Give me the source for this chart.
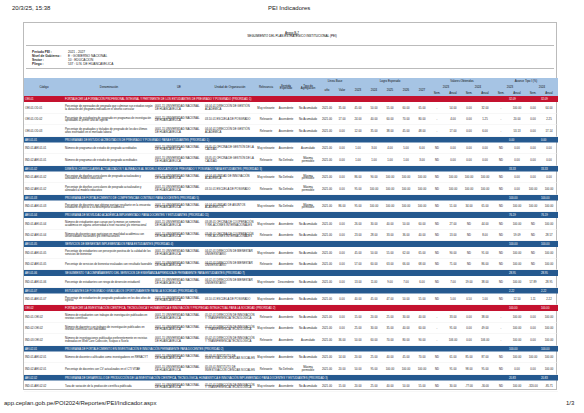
<!DOCTYPE html>
<html>
<head>
<meta charset="utf-8">
<script src="https://cdn.jsdelivr.net/npm/chart.js@4.4.1/dist/chart.umd.min.js"></script>
<style>
  body { margin:0; width:584px; height:413px; background:#fff; font-family:"Liberation Sans", Arial, sans-serif; position:relative; overflow:hidden; }
  .top { position:absolute; font-size:6px; color:#222; }
  #frame { position:absolute; left:23px; top:22px; width:534px; height:368px; border:1px solid #bbb; box-sizing:border-box; }
  .hline { position:absolute; left:26px; width:528px; height:1px; background:#bbb; }
  #sheet { position:absolute; left:0; top:0; width:2336px; height:1652px; transform:scale(0.25); transform-origin:0 0; }
  .meta { position:absolute; left:128px; top:200px; font-size:12.8px; line-height:16px; color:#222; }
  .meta b { display:inline-block; width:144px; }
  .title { position:absolute; left:0; width:2336px; top:124px; text-align:center; font-size:12px; line-height:14.4px; }
  table { position:absolute; left:96px; top:312px; width:2128px; border-collapse:collapse; table-layout:fixed; font-size:11px; line-height:10.8px; }
  td, th { padding:0 4px; overflow:hidden; white-space:normal; }
  thead th { background:#a6c4e4; font-weight:normal; text-align:center; height:24px; color:#111; font-size:11.5px; }
  tr.d td { height:44px; border-bottom:2px solid #eee; color:#222; }
  tr.d td.n { text-align:center; }
  tr.g td { height:24px; background:#25598f; color:#fff; }
  tr.r td { height:24px; background:#c4122f; color:#fff; }
</style>
</head>
<body>
<div class="top" style="left:12px;top:5px">20/3/25, 15:38</div>
<div class="top" style="left:268px;top:5px">PEI Indicadores</div>
<div id="frame"></div>
<div class="hline" style="top:45px"></div>
<div class="hline" style="top:68px"></div>
<div id="sheet">
<div class="title"><u>Anexo B-7</u><br>SEGUIMIENTO DEL PLAN ESTRATÉGICO INSTITUCIONAL (PEI)</div>
<div class="meta"><b>Período PEI :</b>2021 - 2027<br><b>Nivel de Gobierno :</b>E : GOBIERNO NACIONAL<br><b>Sector :</b>10 : EDUCACION<br><b>Pliego :</b>537 : U.N. DE HUANCAVELICA</div>
<table id="tbl">
<colgroup>
<col style="width:160px"><col style="width:360px"><col style="width:200px"><col style="width:208px"><col style="width:80px"><col style="width:80px"><col style="width:96px">
<col style="width:56px"><col style="width:64px"><col style="width:64px"><col style="width:64px"><col style="width:64px"><col style="width:64px"><col style="width:64px">
<col style="width:56px"><col style="width:72px"><col style="width:56px"><col style="width:72px"><col style="width:56px"><col style="width:72px"><col style="width:56px"><col style="width:72px">
</colgroup>
<thead>
<tr><th rowspan="3">Código</th><th rowspan="3">Denominación</th><th rowspan="3">UE</th><th rowspan="3">Unidad de Organización</th><th rowspan="3">Relevancia</th><th rowspan="3">Sentido Esperado</th><th rowspan="3">Tipo de Agregación</th>
<th colspan="2">Línea Base</th><th colspan="5">Logro Esperado</th><th colspan="4">Valores Obtenidos</th><th colspan="4">Avance Tipo I (%)</th></tr>
<tr><th rowspan="2">año</th><th rowspan="2">Valor</th><th rowspan="2">2023</th><th rowspan="2">2024</th><th rowspan="2">2025</th><th rowspan="2">2026</th><th rowspan="2">2027</th>
<th colspan="2">2023</th><th colspan="2">2024</th><th colspan="2">2023</th><th colspan="2">2024</th></tr>
<tr><th>Sem.</th><th>Anual</th><th>Sem.</th><th>Anual</th><th>Sem.</th><th>Anual</th><th>Sem.</th><th>Anual</th></tr>
</thead>
<tbody id="body"></tbody>
</table>
</div>
<div class="top" style="left:4px;top:400px">app.ceplan.gob.pe/POI2024/Reportes/PEI/Indicador.aspx</div>
<div class="top" style="left:566px;top:400px">1/3</div>
<script>
// kind: r = objetivo (red), g = acción (blue), d = indicador
const kinds = ["r","d","d","d","g","d","d","g","d","d","g","d","g","d","d","g","d","d","g","d","g","d","r","d","d","d","g","d","d","g","d"];
const codes = ["OEI.01","OEI.01.OD.01","OEI.01.OD.02","OEI.01.OD.03","AEI.01.01","IND.01.AEI.01.01","IND.02.AEI.01.01","AEI.01.02","IND.01.AEI.01.02","IND.02.AEI.01.02","AEI.01.03","IND.01.AEI.01.03","AEI.01.04","IND.01.AEI.01.04","IND.02.AEI.01.04","AEI.01.05","IND.01.AEI.01.05","IND.02.AEI.01.05","AEI.01.06","IND.01.AEI.01.06","AEI.01.07","IND.01.AEI.01.07","OEI.02","IND.01.OEI.02","IND.02.OEI.02","IND.03.OEI.02","AEI.02.01","IND.01.AEI.02.01","IND.02.AEI.02.01","AEI.02.02","IND.01.AEI.02.02"];
const names = [
 "FORTALECER LA FORMACIÓN PROFESIONAL INTEGRAL Y PERTINENTE DE LOS ESTUDIANTES DE PREGRADO Y POSGRADO (PRIORIDAD 1)",
 "Porcentaje de egresados de pregrado que culminan sus estudios según la duración del programa indicada en el diseño curricular",
 "Porcentaje de estudiantes de posgrado en programas de investigación aprobados al primer año de egreso",
 "Porcentaje de graduados y titulados de pregrado de los dos últimos años insertados en el mercado laboral",
 "PROGRAMAS DE ESTUDIO ACREDITADOS DE PREGRADO Y POSGRADO PARA ESTUDIANTES (PRIORIDAD 1)",
 "Número de programas de estudio de pregrado acreditados",
 "Número de programas de estudio de posgrado acreditados",
 "DISEÑOS CURRICULARES ACTUALIZADOS Y ALINEADOS AL MODELO EDUCATIVO DE PREGRADO Y POSGRADO PARA ESTUDIANTES (PRIORIDAD 3)",
 "Porcentaje de diseños curriculares de pregrado actualizados y alineados al modelo educativo",
 "Porcentaje de diseños curriculares de posgrado actualizados y alineados al modelo educativo",
 "PROGRAMA DE FORTALECIMIENTO DE COMPETENCIAS CONTINUO PARA DOCENTES (PRIORIDAD 5)",
 "Porcentaje de docentes que obtiene puntaje resaltante en la encuesta: estudiante respecto a su desempeño académico",
 "PROGRAMA DE MOVILIDAD ACADÉMICA IMPLEMENTADO PARA DOCENTES Y ESTUDIANTES (PRIORIDAD 11)",
 "Número de estudiantes que cursan por lo menos un semestre académico en alguna universidad a nivel nacional y/o internacional",
 "Número de docentes que participan en movilidad académica con universidades nacionales y/o internacionales",
 "SERVICIOS DE BIENESTAR IMPLEMENTADOS PARA ESTUDIANTES (PRIORIDAD 4)",
 "Porcentaje de estudiantes con percepción positiva de la calidad de los servicios de bienestar",
 "Porcentaje de servicios de bienestar evaluados con resultado favorable",
 "SEGUIMIENTO Y ACOMPAÑAMIENTO DEL SERVICIOS DE ENSEÑANZA APRENDIZAJE PERMANENTE PARA ESTUDIANTES (PRIORIDAD 7)",
 "Porcentaje de estudiantes con riesgo de deserción estudiantil",
 "ESTUDIANTES DE POSGRADO GRADUADOS OPORTUNAMENTE PARA LA SOCIEDAD (PRIORIDAD 6)",
 "Porcentaje de estudiantes de posgrado graduados en los dos años de egreso",
 "FORTALECER LA INVESTIGACIÓN CIENTÍFICA, TECNOLÓGICA Y HUMANÍSTICA E INNOVACIÓN Y PROPIEDAD INTELECTUAL PARA LA SOCIEDAD (PRIORIDAD 2)",
 "Número de estudiantes con trabajos de investigación publicados en revistas científicas",
 "Número de docentes con trabajos de investigación publicados en revistas científicas con indexadas",
 "Número de investigaciones publicadas preferentemente en revistas indexadas en Web Core Colección, Scopus o Scielo",
 "PROGRAMA DE FORTALECIMIENTO EN INVESTIGACIÓN E INNOVACIÓN PERMANENTE PARA DOCENTES (PRIORIDAD 2)",
 "Número de docentes calificados como investigadores en RENACYT",
 "Porcentaje de docentes con CV actualizados en el CTI VITAE",
 "PROGRAMA DE DESARROLLO DE PRODUCCIÓN DE LA INVESTIGACIÓN CIENTÍFICA, TECNOLÓGICA, HUMANÍSTICA E INNOVACIÓN IMPLEMENTADO PARA DOCENTES Y ESTUDIANTES (PRIORIDAD 3)",
 "Tasa de variación de la producción científica publicada"
];
const UE = "0001-15 UNIVERSIDAD NACIONAL DE HUANCAVELICA";
const units = ["","04.04.01 DIRECCIÓN DE GESTIÓN ACADÉMICA","03.10.01 ESCUELA DE POSGRADO","04.04.01 DIRECCIÓN DE GESTIÓN ACADÉMICA","","03.05.01 OFICINA DE GESTIÓN DE LA CALIDAD","03.05.01 OFICINA DE GESTIÓN DE LA CALIDAD","","04.04.03 UNIDAD DE INNOVACIÓN ACADÉMICA","03.10.01 ESCUELA DE POSGRADO","","04.04.02 UNIDAD DE ASUNTOS ACADÉMICOS","","03.08.01 OFICINA DE COOPERACIÓN Y RELACIONES INTERNACIONALES","03.08.01 OFICINA DE COOPERACIÓN Y RELACIONES INTERNACIONALES","","04.02.01 DIRECCIÓN DE BIENESTAR UNIVERSITARIO","04.02.01 DIRECCIÓN DE BIENESTAR UNIVERSITARIO","","04.02.01 DIRECCIÓN DE BIENESTAR UNIVERSITARIO","","03.10.01 ESCUELA DE POSGRADO","","05.02.01 DIRECCIÓN DE INNOVACIÓN Y TRANSFERENCIA TECNOLÓGICA","05.02.01 DIRECCIÓN DE INNOVACIÓN Y TRANSFERENCIA TECNOLÓGICA","05.02.01 DIRECCIÓN DE INNOVACIÓN Y TRANSFERENCIA TECNOLÓGICA","","05.03.01 INSTITUTO DE INVESTIGACIÓN CIENCIAS SOCIALES","05.03.01 INSTITUTO DE INVESTIGACIÓN CIENCIAS SOCIALES","","05.02.01 DIRECCIÓN DE INNOVACIÓN Y TRANSFERENCIA TECNOLÓGICA"];
const relevance = ["","Muy relevante","Relevante","Relevante","","Muy relevante","Relevante","","Muy relevante","Relevante","","Muy relevante","","Muy relevante","Relevante","","Muy relevante","Relevante","","Muy relevante","","Muy relevante","","Relevante","Muy relevante","Relevante","","Muy relevante","Relevante","","Muy relevante"];
const sense = ["","Ascendente","Ascendente","Ascendente","","Ascendente","No Definido","","No Definido","No Definido","","No Definido","","Ascendente","Ascendente","","Ascendente","Ascendente","","Descendente","","Ascendente","","Ascendente","Ascendente","Ascendente","","Ascendente","No Definido","","Ascendente"];
const aggregation = ["","No Acumulado","No Acumulado","No Acumulado","","Acumulado","Máxima permisible","","Máxima permisible","Máxima permisible","","Máxima permisible","","No Acumulado","No Acumulado","","No Acumulado","No Acumulado","","No Acumulado","","No Acumulado","","No Acumulado","No Acumulado","Acumulado","","No Acumulado","Máxima permisible","","No Acumulado"];
const baseValue = [null,35,17,0,null,0,0,null,0,0,null,86,null,0,0,null,0,0,null,0,null,0,null,0,0,36,null,14,20,null,15];
const expected = [null,[45,50,55,60,65],[24,40,60,70,80],[12,35,38,45,48],null,[1,3,4,5,6],[1,1,1,1,3],null,[86,90,100,100,100],[95,100,100,100,100],null,[95,100,100,100,100],null,[26,30,40,50,60],[23,28,33,36,40],null,[45,50,55,62,65],[57,60,63,66,68],null,[13,11,9,7,6],null,[40,45,47,50,55],null,[15,20,25,30,40],[25,30,35,40,60],[50,60,70,80,90],null,[20,25,40,45,70],[50,95,100,100,100],null,[20,25,40,50,55]];
// obtenidos: sem 2023, anual 2023, sem 2024, anual 2024
const obtained = [null,["-",54,0,32],["-",4,0,1.25],["-",17,0,6],null,["ND",0,0,0],["ND",0,0,0],null,["ND",100,100,100],["ND",100,100,100],null,["ND",51,34,65],null,["ND",27,"ND",44],["ND",13,"ND",8],null,["ND",90,"ND",91],["ND",71,"ND",86],null,["ND",7,19,38],null,["ND",5,0.5,1],null,["-",33,0,38],["-",91,0,49],["-",106,0,106],null,["ND",61,85,87],["ND",91,98,95],null,["ND",30,-77,-30]];
const progress = [[32.09,32.09],["-",100,0,64],["-",20,0,2.25],["-",53.13,0,17.14],[0,0],["ND",0,0,0],["ND",0,0,0],[33.33,33.33],["ND",0,0,0],["ND",0,100,100],[100,100],["ND",100,100,100],[76.19,76.19],["ND",100,"ND",100],["ND",59.09,"ND",28.57],[100,100],["ND",100,"ND",100],["ND",100,"ND",100],[28.95,28.95],["ND",100,57.89,28.95],[2.22,2.22],["ND",12.5,1.11,2.22],[100,100],["-",100,0,100],["-",100,0,100],["-",100,0,100],[100,100],["ND",100,100,100],["ND",0,0,100],[20.83,20.83],["ND",100,-320,-85.71]];

const fmt = v => typeof v === "number" ? v.toFixed(2) : v;
const body = document.getElementById("body");
kinds.forEach((k, i) => {
  const tr = document.createElement("tr");
  tr.className = k;
  if (k !== "d") {
    tr.innerHTML = `<td>${codes[i]}</td><td colspan="17" style="white-space:nowrap">${names[i]}</td><td></td><td>${fmt(progress[i][0])}</td><td></td><td>${fmt(progress[i][1])}</td>`;
  } else {
    const cells = [2021, baseValue[i], ...expected[i], ...obtained[i], ...progress[i]].map(v => `<td class="n">${fmt(v)}</td>`).join("");
    tr.innerHTML = `<td>${codes[i]}</td><td>${names[i]}</td><td>${UE}</td><td>${units[i]}</td><td class="n">${relevance[i]}</td><td class="n">${sense[i]}</td><td class="n">${aggregation[i]}</td>` + cells;
  }
  body.appendChild(tr);
});
</script>
</body>
</html>
